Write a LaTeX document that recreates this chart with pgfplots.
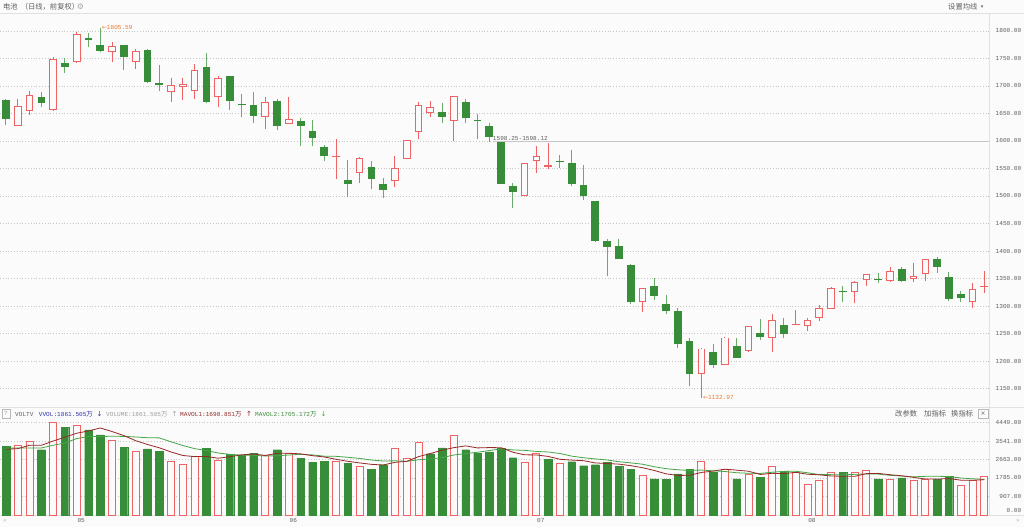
\documentclass[border=0pt]{standalone}
\usepackage{pgfplots}
\pgfplotsset{compat=1.18}
\usepackage{fontspec}
\setmainfont{Liberation Sans}
\newfontfamily\monof{Liberation Mono}
\newfontfamily\cjk{Noto Sans CJK SC}
\newfontfamily\symf{DejaVu Sans}
\definecolor{kred}{RGB}{238,100,100}
\definecolor{kgreen}{RGB}{56,142,56}
\definecolor{wgreen}{RGB}{105,172,105}
\definecolor{bg}{RGB}{251,251,251}
\definecolor{ma5}{RGB}{150,40,40}
\definecolor{ma10}{RGB}{70,165,70}
\definecolor{labc}{RGB}{95,95,95}
\definecolor{sepc}{RGB}{225,225,225}
\definecolor{orgc}{RGB}{236,120,50}
\definecolor{vblue}{RGB}{50,50,175}
\newcommand{\mf}{\monof\fontsize{6.1}{7}\selectfont}
\newcommand{\cf}{\cjk\fontsize{7.3}{8}\selectfont}
\begin{document}
\begin{tikzpicture}[x=1pt,y=1pt]
\useasboundingbox (0,0) rectangle (1024,527);
\fill[bg] (0,0) rectangle (1024,527);
\draw[sepc,line width=0.8pt] (0,514) -- (1024,514);
\draw[sepc,line width=0.8pt] (0,120) -- (1024,120);
\draw[sepc,line width=0.8pt] (0,11.5) -- (1024,11.5);
\draw[sepc,line width=0.8pt] (989,11.5) -- (989,514);

% ---------- price panel ----------
\begin{axis}[at={(0pt,120pt)}, anchor=south west, scale only axis,
  width=989pt, height=394pt,
  xmin=-0.509, xmax=83.4, ymin=1116.36, ymax=1832.7,
  axis line style={draw=none}, xtick=\empty,
  ytick={1150,1200,1250,1300,1350,1400,1450,1500,1550,1600,1650,1700,1750,1800},
  yticklabels={1150.00,1200.00,1250.00,1300.00,1350.00,1400.00,1450.00,1500.00,1550.00,1600.00,1650.00,1700.00,1750.00,1800.00},
  yticklabel pos=right, major tick length=0pt,
  yticklabel style={anchor=east, xshift=32.5pt, inner sep=0pt, font=\mf, text=labc},
  ymajorgrids, grid style={gray!45, dash pattern=on 0.8pt off 2pt},
  unbounded coords=jump, line cap=butt]
% gap line
\addplot[gray!45, line width=0.9pt, mark=none] coordinates {(41.35,1598.25)(83.5,1598.25)};
% green wicks
\addplot[wgreen, line width=1pt, mark=none] coordinates {
(0,1629)(0,1676)(0,nan)
(3,1662.4)(3,1688.5)(3,nan)
(5,1724)(5,1750)(5,nan)
(7,1771.5)(7,1796)(7,nan)
(8,1761)(8,1805.59)(8,nan)
(10,1729.7)(10,1775)(10,nan)
(12,1706)(12,1766.7)(12,nan)
(13,1690)(13,1739)(13,nan)
(17,1668.5)(17,1760.6)(17,nan)
(19,1655.8)(19,1719)(19,nan)
(20,1644)(20,1685)(20,nan)
(21,1632)(21,1688.5)(21,nan)
(23,1619.4)(23,1676.4)(23,nan)
(25,1590)(25,1641)(25,nan)
(26,1591)(26,1637.6)(26,nan)
(27,1564)(27,1593)(27,nan)
(29,1498.8)(29,1565.5)(29,nan)
(31,1512)(31,1563)(31,nan)
(32,1497)(32,1532.7)(32,nan)
(37,1633.3)(37,1669)(37,nan)
(39,1632)(39,1675.8)(39,nan)
(40,1603)(40,1648.5)(40,nan)
(41,1598.8)(41,1633.3)(41,nan)
(42,1522)(42,1598.8)(42,nan)
(43,1479)(43,1524)(43,nan)
(47,1550)(47,1574)(47,nan)
(48,1518)(48,1583)(48,nan)
(49,1492)(49,1556)(49,nan)
(50,1417)(50,1491)(50,nan)
(51,1354)(51,1421.5)(51,nan)
(52,1385)(52,1422)(52,nan)
(53,1304)(53,1376)(53,nan)
(55,1310)(55,1350)(55,nan)
(56,1285)(56,1319.7)(56,nan)
(57,1223.3)(57,1295.5)(57,nan)
(58,1154)(58,1242.7)(58,nan)
(60,1186.4)(60,1230)(60,nan)
(62,1205)(62,1241.5)(62,nan)
(64,1239)(64,1275.5)(64,nan)
(66,1242.4)(66,1278)(66,nan)
(71,1308)(71,1336.4)(71,nan)
(74,1341.2)(74,1359.4)(74,nan)
(76,1343.6)(76,1370.3)(76,nan)
(79,1360.6)(79,1389.7)(79,nan)
(80,1309)(80,1361.8)(80,nan)
(81,1308)(81,1327.3)(81,nan)
};
% red wicks
\addplot[kred, line width=1pt, mark=none] coordinates {
(1,1627)(1,1676)(1,nan)
(2,1648)(2,1690)(2,nan)
(4,1655)(4,1753)(4,nan)
(6,1741)(6,1798)(6,nan)
(9,1744)(9,1780)(9,nan)
(11,1731)(11,1766.7)(11,nan)
(14,1671)(14,1714.5)(14,nan)
(15,1675)(15,1714.5)(15,nan)
(16,1676.4)(16,1739.4)(16,nan)
(18,1661)(18,1717.6)(18,nan)
(22,1622.4)(22,1680)(22,nan)
(24,1630)(24,1680)(24,nan)
(28,1531.5)(28,1603.6)(28,nan)
(30,1524)(30,1571.5)(30,nan)
(33,1516)(33,1573.3)(33,nan)
(34,1567)(34,1602)(34,nan)
(35,1603.6)(35,1671)(35,nan)
(36,1644)(36,1672)(36,nan)
(38,1600)(38,1682)(38,nan)
(44,1499.5)(44,1560)(44,nan)
(45,1541.2)(45,1591)(45,nan)
(46,1549.7)(46,1597)(46,nan)
(54,1289.4)(54,1333.5)(54,nan)
(59,1132.97)(59,1223)(59,nan)
(61,1192)(61,1243)(61,nan)
(63,1217)(63,1264)(63,nan)
(65,1217.2)(65,1285.3)(65,nan)
(67,1265)(67,1292.7)(67,nan)
(68,1254.5)(68,1277.6)(68,nan)
(69,1273.3)(69,1301.8)(69,nan)
(70,1294)(70,1335)(70,nan)
(72,1304.8)(72,1346)(72,nan)
(73,1337)(73,1358)(73,nan)
(75,1344)(75,1370.3)(75,nan)
(77,1344.2)(77,1377.6)(77,nan)
(78,1346)(78,1386)(78,nan)
(82,1297)(82,1342.4)(82,nan)
(83,1323)(83,1363)(83,nan)
};
% green bodies
\addplot[kgreen, line width=7.7pt, mark=none] coordinates {
(0,1640.6)(0,1674.5)(0,nan)
(3,1668.5)(3,1680)(3,nan)
(5,1735)(5,1741)(5,nan)
(7,1784)(7,1786.7)(7,nan)
(8,1763.6)(8,1774.5)(8,nan)
(10,1752.7)(10,1774.5)(10,nan)
(12,1707)(12,1765.5)(12,nan)
(13,1701)(13,1705)(13,nan)
(17,1670)(17,1735)(17,nan)
(19,1672)(19,1718)(19,nan)
(20,1665)(20,1667.3)(20,nan)
(21,1646)(21,1665)(21,nan)
(23,1628)(23,1672)(23,nan)
(25,1628)(25,1636.4)(25,nan)
(26,1606)(26,1619)(26,nan)
(27,1572)(27,1589)(27,nan)
(29,1522.4)(29,1529)(29,nan)
(31,1531)(31,1553.3)(31,nan)
(32,1510.3)(32,1521.2)(32,nan)
(37,1643.6)(37,1652)(37,nan)
(39,1641.2)(39,1670.3)(39,nan)
(40,1637)(40,1638.8)(40,nan)
(41,1606.7)(41,1628)(41,nan)
(42,1522.4)(42,1598.1)(42,nan)
(43,1508)(43,1518)(43,nan)
(47,1562.4)(47,1564.2)(47,nan)
(48,1522.7)(48,1560)(48,nan)
(49,1499.4)(49,1519.4)(49,nan)
(50,1417.9)(50,1490.6)(50,nan)
(51,1407)(51,1418.5)(51,nan)
(52,1385.8)(52,1409.4)(52,nan)
(53,1306.4)(53,1374.8)(53,nan)
(55,1317.3)(55,1335.5)(55,nan)
(56,1291.2)(56,1304.5)(56,nan)
(57,1230.6)(57,1290.6)(57,nan)
(58,1175.5)(58,1235.5)(58,nan)
(60,1192.4)(60,1215.5)(60,nan)
(62,1205.8)(62,1227.6)(62,nan)
(64,1244)(64,1251.8)(64,nan)
(66,1249.7)(66,1264.8)(66,nan)
(71,1324.8)(71,1327.3)(71,nan)
(74,1347.9)(74,1349.7)(74,nan)
(76,1345.5)(76,1366.7)(76,nan)
(79,1371.5)(79,1384.8)(79,nan)
(80,1312.7)(80,1353.3)(80,nan)
(81,1314)(81,1321.8)(81,nan)
};
% red bodies (outline)
\addplot[kred, line width=7.7pt, mark=none] coordinates {
(1,1628)(1,1663)(1,nan)
(2,1654)(2,1683)(2,nan)
(4,1655.8)(4,1748.5)(4,nan)
(6,1743)(6,1794)(6,nan)
(9,1761)(9,1773)(9,nan)
(11,1743)(11,1764)(11,nan)
(14,1688.5)(14,1702.4)(14,nan)
(15,1698.8)(15,1703)(15,nan)
(16,1691)(16,1729.7)(16,nan)
(18,1679.4)(18,1715)(18,nan)
(22,1643.6)(22,1671)(22,nan)
(24,1630)(24,1639.4)(24,nan)
(28,1570.3)(28,1572.7)(28,nan)
(30,1541.2)(30,1569)(30,nan)
(33,1527.3)(33,1550.3)(33,nan)
(34,1567.3)(34,1601.5)(34,nan)
(35,1615.8)(35,1664.8)(35,nan)
(36,1651.5)(36,1661.2)(36,nan)
(38,1637)(38,1681.8)(38,nan)
(44,1500)(44,1559.4)(44,nan)
(45,1563)(45,1572)(45,nan)
(46,1553.3)(46,1556.4)(46,nan)
(54,1307)(54,1333)(54,nan)
(59,1175.5)(59,1222.7)(59,nan)
(61,1192.4)(61,1242.7)(61,nan)
(63,1217.3)(63,1263.3)(63,nan)
(65,1242.3)(65,1275)(65,nan)
(67,1265.5)(67,1268)(67,nan)
(68,1264.2)(68,1274.5)(68,nan)
(69,1278.2)(69,1295.8)(69,nan)
(70,1294.5)(70,1333.3)(70,nan)
(72,1324.8)(72,1343)(72,nan)
(73,1346.7)(73,1357.6)(73,nan)
(75,1344.8)(75,1363)(75,nan)
(77,1348.5)(77,1354.5)(77,nan)
(78,1357.6)(78,1386)(78,nan)
(82,1306.7)(82,1330.3)(82,nan)
(83,1334.5)(83,1337)(83,nan)
};
% red bodies (hollow inside)
\addplot[bg, line width=5.7pt, mark=none] coordinates {
(1,1629.8)(1,1661.2)(1,nan)
(2,1655.8)(2,1681.2)(2,nan)
(4,1657.6)(4,1746.7)(4,nan)
(6,1744.8)(6,1792.2)(6,nan)
(9,1762.8)(9,1771.2)(9,nan)
(11,1744.8)(11,1762.2)(11,nan)
(14,1690.3)(14,1700.6)(14,nan)
(15,1700.6)(15,1701.2)(15,nan)
(16,1692.8)(16,1727.9)(16,nan)
(18,1681.2)(18,1713.2)(18,nan)
(22,1645.4)(22,1669.2)(22,nan)
(24,1631.8)(24,1637.6)(24,nan)
(30,1543)(30,1567.2)(30,nan)
(33,1529.1)(33,1548.5)(33,nan)
(34,1569.1)(34,1599.7)(34,nan)
(35,1617.6)(35,1663)(35,nan)
(36,1653.3)(36,1659.4)(36,nan)
(38,1638.8)(38,1680)(38,nan)
(44,1501.8)(44,1557.6)(44,nan)
(45,1564.8)(45,1570.2)(45,nan)
(54,1308.8)(54,1331.2)(54,nan)
(59,1177.3)(59,1220.9)(59,nan)
(61,1194.2)(61,1240.9)(61,nan)
(63,1219.1)(63,1261.5)(63,nan)
(65,1244.1)(65,1273.2)(65,nan)
(68,1266)(68,1272.7)(68,nan)
(69,1280)(69,1294)(69,nan)
(70,1296.3)(70,1331.5)(70,nan)
(72,1326.6)(72,1341.2)(72,nan)
(73,1348.5)(73,1355.8)(73,nan)
(75,1346.6)(75,1361.2)(75,nan)
(77,1350.3)(77,1352.7)(77,nan)
(78,1359.4)(78,1384.2)(78,nan)
(82,1308.5)(82,1328.5)(82,nan)
};
\node[anchor=west, inner sep=0pt, text=orgc, font=\mf] at (axis cs:8.12,1805.59) {{\symf\fontsize{6}{7}\selectfont ←}1805.59};
\node[anchor=west, inner sep=0pt, text=orgc, font=\mf] at (axis cs:59.12,1132.97) {{\symf\fontsize{6}{7}\selectfont ←}1132.97};
\node[anchor=south west, inner sep=0pt, text=labc, font=\mf] at (axis cs:41.3,1599.6) {1598.25-1598.12};
\end{axis}

% ---------- volume panel ----------
\begin{axis}[at={(0pt,12pt)}, anchor=south west, scale only axis,
  width=989pt, height=99pt,
  xmin=-0.509, xmax=83.4, ymin=0, ymax=4762,
  axis line style={draw=none},
  ytick={907,1785,2663,3541,4449},
  yticklabels={907.00,1785.00,2663.00,3541.00,4449.00},
  extra y ticks={0}, extra y tick labels={0.00},
  extra y tick style={ymajorgrids=false, yticklabel style={yshift=4.5pt}},
  yticklabel pos=right, major tick length=0pt,
  yticklabel style={anchor=east, xshift=32.5pt, inner sep=0pt, font=\mf, text=labc},
  xtick={6,24,45,68}, xticklabels={05,06,07,08},
  xticklabel style={anchor=north, inner sep=0pt, yshift=-3pt, xshift=4.5pt, font=\mf, text=labc},
  ymajorgrids, grid style={gray!45, dash pattern=on 0.8pt off 2pt}]
\addplot[ybar, bar width=7.6pt, bar shift=0pt, fill=kgreen, draw=kgreen, line width=0.3pt] coordinates {
(0,3288)(3,3143)(5,4223)(7,4094)(8,3853)(10,3256)(12,3176)(13,3063)(17,3208)(19,2934)(20,2885)(21,2982)(23,3143)(25,2724)(26,2547)(27,2579)(29,2482)(31,2208)(32,2418)(36,2950)(37,3224)(39,3143)(40,2982)(41,3031)(42,3192)(43,2757)(46,2676)(48,2563)(49,2370)(50,2418)(51,2531)(52,2354)(53,2192)(55,1741)(56,1725)(57,1983)(58,2208)(60,2063)(62,1741)(64,1805)(66,2112)(71,2047)(74,1741)(76,1789)(79,1725)(80,1854)};
\addplot[ybar, bar width=7pt, bar shift=0pt, fill=bg, draw=kred, line width=0.9pt] coordinates {
(1,3353)(2,3546)(4,4449)(6,4304)(9,3595)(11,3079)(14,2579)(15,2418)(16,2805)(18,2644)(22,2885)(24,2966)(28,2579)(30,2337)(33,3224)(34,2724)(35,3466)(38,3837)(44,2515)(45,2950)(47,2499)(54,1886)(59,2579)(61,2192)(63,1950)(65,2337)(67,2063)(68,1483)(69,1676)(70,2047)(72,2047)(73,2128)(75,1725)(77,1676)(78,1725)(81,1402)(82,1644)(83,1862)};
\addplot[ma10, line width=0.8pt, mark=none] coordinates {
(0,3208)(1,3224)(2,3224)(3,3224)(4,3353)(5,3466)(6,3675)(7,3772)(8,3780)(9,3785)(10,3782)(11,3754)(12,3717)(13,3709)(14,3522)(15,3342)(16,3192)(17,3103)(18,2982)(19,2916)(20,2879)(21,2869)(22,2840)(23,2848)(24,2887)(25,2918)(26,2892)(27,2829)(28,2822)(29,2777)(30,2722)(31,2645)(32,2598)(33,2606)(34,2582)(35,2656)(36,2697)(37,2761)(38,2887)(39,2953)(40,3018)(41,3100)(42,3177)(43,3131)(44,3110)(45,3058)(46,3031)(47,2958)(48,2831)(49,2754)(50,2697)(51,2647)(52,2563)(53,2507)(54,2444)(55,2323)(56,2228)(57,2176)(58,2141)(59,2162)(60,2126)(61,2092)(62,2031)(63,2007)(64,1999)(65,2058)(66,2097)(67,2105)(68,2033)(69,1942)(70,1941)(71,1926)(72,1957)(73,1975)(74,1968)(75,1907)(76,1875)(77,1836)(78,1860)(79,1865)(80,1846)(81,1781)(82,1741)(83,1714)};
\addplot[ma5, line width=0.8pt, mark=none] coordinates {
(0,3159)(1,3192)(2,3353)(3,3353)(4,3556)(5,3743)(6,3933)(7,4043)(8,4185)(9,4014)(10,3820)(11,3575)(12,3392)(13,3234)(14,3031)(15,2863)(16,2808)(17,2815)(18,2731)(19,2802)(20,2895)(21,2931)(22,2866)(23,2966)(24,2972)(25,2940)(26,2853)(27,2792)(28,2679)(29,2582)(30,2505)(31,2437)(32,2405)(33,2534)(34,2582)(35,2808)(36,2956)(37,3118)(38,3240)(39,3324)(40,3227)(41,3243)(42,3237)(43,3021)(44,2895)(45,2889)(46,2818)(47,2679)(48,2641)(49,2612)(50,2505)(51,2476)(52,2447)(53,2373)(54,2276)(55,2141)(56,1980)(57,1905)(58,1909)(59,2047)(60,2112)(61,2205)(62,2157)(63,2105)(64,1950)(65,2005)(66,1989)(67,2053)(68,1960)(69,1934)(70,1876)(71,1863)(72,1860)(73,1989)(74,2002)(75,1938)(76,1886)(77,1812)(78,1731)(79,1728)(80,1754)(81,1676)(82,1670)(83,1697)};
\end{axis}

% ---------- header texts ----------
\node[anchor=west, inner sep=0pt, text=labc, font=\cf] at (3,520) {电池\hspace{3pt}（日线，前复权）};
\node[anchor=center, inner sep=0pt, text=gray!70, font=\symf\fontsize{8}{9}\selectfont] at (80.5,520) {⚙};
\node[anchor=west, inner sep=0pt, text=labc, font=\cf] at (948,520) {设置均线};
\node[anchor=center, inner sep=0pt, text=labc, font=\symf\fontsize{5}{6}\selectfont] at (982,520) {▾};

% volume header
\draw[gray!55, line width=0.5pt] (2,109) rectangle (10,117.5);
\node[inner sep=0pt, text=gray!70, font=\mf] at (6,113.2) {?};
\node[anchor=west, inner sep=0pt, text=labc, font=\mf] at (15,113) {VOLTV};
\node[anchor=west, inner sep=0pt, text=vblue, font=\mf] at (38.7,113) {VVOL:1861.505{\cjk\fontsize{6.5}{7}\selectfont 万}};
\node[anchor=west, inner sep=0pt, text=vblue, font=\symf\fontsize{7}{8}\selectfont] at (96.5,113) {↓};
\node[anchor=west, inner sep=0pt, text=gray!75, font=\mf] at (106,113) {VOLUME:1861.505{\cjk\fontsize{6.5}{7}\selectfont 万}};
\node[anchor=west, inner sep=0pt, text=gray!75, font=\symf\fontsize{7}{8}\selectfont] at (171.5,113) {↑};
\node[anchor=west, inner sep=0pt, text=ma5, font=\mf] at (180,113) {MAVOL1:1690.851{\cjk\fontsize{6.5}{7}\selectfont 万}};
\node[anchor=west, inner sep=0pt, text=ma5, font=\symf\fontsize{7}{8}\selectfont] at (246,113) {↑};
\node[anchor=west, inner sep=0pt, text=ma10!85!black, font=\mf] at (255,113) {MAVOL2:1705.172{\cjk\fontsize{6.5}{7}\selectfont 万}};
\node[anchor=west, inner sep=0pt, text=ma10, font=\symf\fontsize{7}{8}\selectfont] at (320.5,113) {↓};
\node[anchor=west, inner sep=0pt, text=labc, font=\cf] at (895,113) {改参数};
\node[anchor=west, inner sep=0pt, text=labc, font=\cf] at (924,113) {加指标};
\node[anchor=west, inner sep=0pt, text=labc, font=\cf] at (951,113) {换指标};
\draw[gray!55, line width=0.5pt] (978,108.5) rectangle (988,118);
\node[inner sep=0pt, text=labc, font=\symf\fontsize{6}{7}\selectfont] at (983,113.2) {×};
% bottom arrows
\node[inner sep=0pt, text=gray!60, font=\symf\fontsize{6}{7}\selectfont] at (5,6) {«};
\node[inner sep=0pt, text=gray!60, font=\symf\fontsize{6}{7}\selectfont] at (1018,6) {»};
\end{tikzpicture}
\end{document}
